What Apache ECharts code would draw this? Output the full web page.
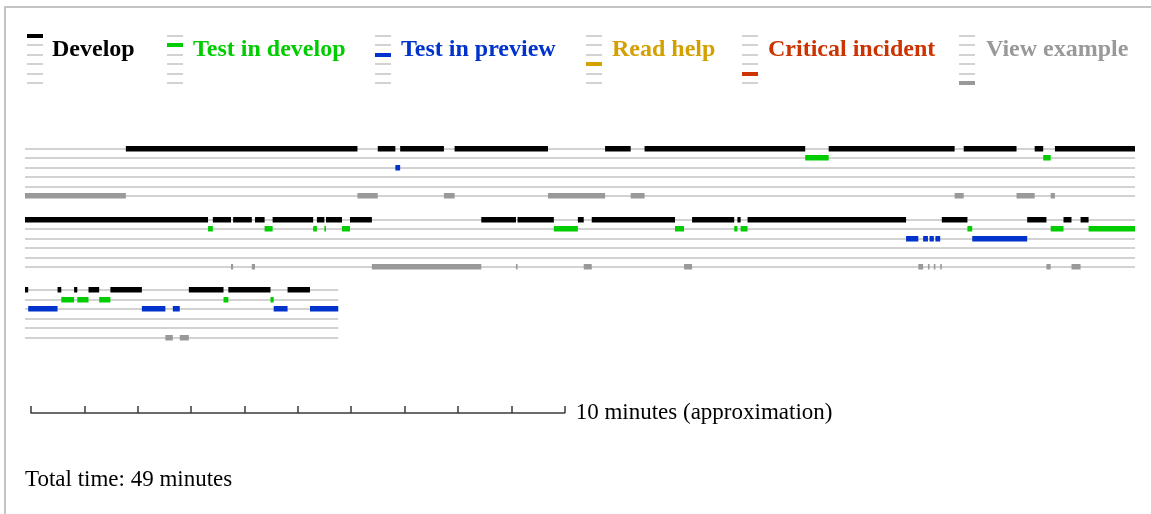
<!DOCTYPE html>
<html>
<head>
<meta charset="utf-8">
<script src="https://cdn.jsdelivr.net/npm/echarts@6/dist/echarts.min.js"></script>
<style>
  html, body { margin: 0; padding: 0; background: #ffffff; }
  #chart { width: 1151px; height: 514px; }
</style>
</head>
<body>
<div id="chart"></div>
<script>
// Activity lanes, top to bottom
const activities = ['Develop', 'Test in develop', 'Test in preview', 'Read help', 'Critical incident', 'View example'];
const activityColors = ['#000000', '#00cc00', '#0033cc', '#d4a000', '#cc3300', '#999999'];

// Session log: [start, end] in minutes from the beginning of the session
const develop = [
  [1.89, 6.23], [6.61, 6.94], [7.03, 7.85], [8.05, 9.80], [10.87, 11.35], [11.61, 14.62],
  [15.06, 17.42], [17.59, 18.58], [18.92, 19.08], [19.30, 24.23], [24.32, 24.66], [24.70, 25.05],
  [25.11, 25.29], [25.44, 26.20], [26.27, 26.41], [26.44, 26.74], [26.89, 27.30], [29.35, 30.00],
  [30.03, 30.71], [31.16, 31.27], [31.42, 32.98], [33.30, 34.09], [34.15, 34.21], [34.34, 37.31],
  [37.98, 38.46], [39.58, 39.94], [40.26, 40.41], [40.58, 40.73], [41.60, 41.66], [42.21, 42.28],
  [42.52, 42.58], [42.79, 42.99], [43.20, 43.79], [44.67, 45.32], [45.41, 46.20], [46.52, 46.94]
];
const testInDevelop = [
  [14.62, 15.06], [19.08, 19.22], [24.23, 24.32], [25.29, 25.44], [26.20, 26.27], [26.41, 26.44],
  [26.74, 26.89], [30.71, 31.16], [32.98, 33.15], [34.09, 34.15], [34.21, 34.34], [38.46, 38.55],
  [40.02, 40.26], [40.73, 41.60], [42.28, 42.52], [42.58, 42.79], [42.99, 43.20], [45.32, 45.41],
  [46.20, 46.26]
];
const testInPreview = [
  [6.94, 7.03], [37.31, 37.54], [37.63, 37.72], [37.75, 37.83], [37.86, 37.95], [38.55, 39.58],
  [41.66, 42.21], [43.79, 44.23], [44.37, 44.50], [46.26, 46.52], [46.94, 47.47]
];
const readHelp = [];
const criticalIncident = [];
const viewExample = [
  [0.00, 1.89], [6.23, 6.61], [7.85, 8.05], [9.80, 10.87], [11.35, 11.61], [17.42, 17.59],
  [18.58, 18.92], [19.22, 19.30], [24.66, 24.70], [25.05, 25.11], [27.30, 29.35], [30.00, 30.03],
  [31.27, 31.42], [33.15, 33.30], [37.54, 37.63], [37.72, 37.75], [37.83, 37.86], [37.95, 37.98],
  [39.94, 40.02], [40.41, 40.58], [44.23, 44.37], [44.50, 44.67]
];

// Timeline wrapping and the scale bar
const rowMinutes = 20.8;
const scaleMinutes = 10;
const scaleLabel = '10 minutes (approximation)';
const totalLabel = 'Total time: 49 minutes';

// ---- layout ----
const SERIF = '"Liberation Serif", "Times New Roman", serif';
const rowLeft = 25, rowWidth = 1110;
const firstLaneY = 149, laneGap = 9.45, rowGap = 70.7;
const barHeight = 5, laneLineHeight = 2, laneLineColor = '#d2d2d2';
const legendIconX = [27, 167, 375, 586, 742, 959];
const legendTextX = [52, 193, 401, 612, 768, 986];
const legendLaneTop = 36, legendIconWidth = 16, legendTextY = 50;

const activityData = [develop, testInDevelop, testInPreview, readHelp, criticalIncident, viewExample];
const sessionEnd = Math.max(...activityData.flat().map(d => d[1]));
const rowCount = Math.ceil(sessionEnd / rowMinutes);

const grids = [], xAxes = [], yAxes = [], series = [];

for (let r = 0; r < rowCount; r++) {
  const rowStart = r * rowMinutes;
  const rowEnd = rowStart + rowMinutes;
  grids.push({
    left: rowLeft, width: rowWidth,
    top: firstLaneY - laneGap / 2 + r * rowGap, height: laneGap * activities.length
  });
  xAxes.push({ gridIndex: r, type: 'value', min: 0, max: rowMinutes, show: false });
  yAxes.push({ gridIndex: r, type: 'category', data: activities, inverse: true, show: false });

  // light lane guides as far as the session reaches in this row
  const laneEnd = Math.min(rowMinutes, sessionEnd - rowStart);
  series.push({
    type: 'custom', xAxisIndex: r, yAxisIndex: r, silent: true, z: 1,
    data: activities.map((_, i) => [i, 0, laneEnd]),
    renderItem(params, api) {
      const a = api.coord([api.value(1), api.value(0)]);
      const b = api.coord([api.value(2), api.value(0)]);
      const y = Math.round(a[1]);
      return { type: 'rect', shape: { x: a[0], y: y - laneLineHeight / 2, width: b[0] - a[0], height: laneLineHeight },
               style: { fill: laneLineColor } };
    }
  });

  // activity segments clipped to this row
  const segs = [];
  activityData.forEach((list, lane) => {
    list.forEach(([s, e]) => {
      const cs = Math.max(s, rowStart), ce = Math.min(e, rowEnd);
      if (ce > cs) segs.push([lane, cs - rowStart, ce - rowStart]);
    });
  });
  series.push({
    type: 'custom', xAxisIndex: r, yAxisIndex: r, silent: true, z: 2,
    data: segs,
    renderItem(params, api) {
      const lane = api.value(0);
      const a = api.coord([api.value(1), lane]);
      const b = api.coord([api.value(2), lane]);
      const y = Math.round(a[1]);
      return { type: 'rect',
               shape: { x: a[0], y: y - barHeight / 2 - 0.5, width: Math.max(b[0] - a[0], 1.5), height: barHeight + 0.5 },
               style: { fill: activityColors[lane] } };
    }
  });
}

// scale bar: same minutes-to-pixels ratio as the rows
const scaleGrid = grids.length;
grids.push({ left: 31, top: 378, width: rowWidth * scaleMinutes / rowMinutes, height: 35 });
xAxes.push({
  gridIndex: scaleGrid, type: 'value', min: 0, max: scaleMinutes, interval: 1, position: 'bottom',
  axisLine: { lineStyle: { color: '#3a3a3a', width: 1.5 } },
  axisTick: { inside: true, length: 7, lineStyle: { color: '#3a3a3a', width: 1.5 } },
  axisLabel: { show: false }, splitLine: { show: false },
  name: scaleLabel, nameLocation: 'end', nameGap: 11,
  nameTextStyle: { fontFamily: SERIF, fontSize: 23, color: '#000', padding: [0, 0, 6, 0] }
});
yAxes.push({ gridIndex: scaleGrid, type: 'value', show: false });

// legend: a miniature lane stack with the activity's own lane highlighted
const graphics = [
  { type: 'polyline', silent: true, shape: { points: [[5, 514], [5, 7], [1151, 7]] },
    style: { stroke: '#c4c4c4', lineWidth: 2, fill: null } }
];
activities.forEach((name, i) => {
  activities.forEach((_, j) => {
    const y = Math.round(legendLaneTop + j * laneGap);
    const hi = i === j;
    graphics.push({ type: 'rect', silent: true,
      shape: { x: legendIconX[i], y: y - (hi ? 2 : 1), width: legendIconWidth, height: hi ? 4 : 2 },
      style: { fill: hi ? activityColors[i] : laneLineColor } });
  });
  graphics.push({ type: 'text', silent: true, x: legendTextX[i], y: legendTextY,
    style: { text: name, fill: activityColors[i], font: 'bold 24px ' + SERIF, verticalAlign: 'middle' } });
});
graphics.push({ type: 'text', silent: true, x: 25, y: 480,
  style: { text: totalLabel, fill: '#000', font: '23px ' + SERIF, verticalAlign: 'middle' } });

const chart = echarts.init(document.getElementById('chart'), null, { renderer: 'canvas' });
chart.setOption({
  animation: false,
  backgroundColor: '#ffffff',
  grid: grids, xAxis: xAxes, yAxis: yAxes, series: series,
  graphic: graphics
});
</script>
</body>
</html>
